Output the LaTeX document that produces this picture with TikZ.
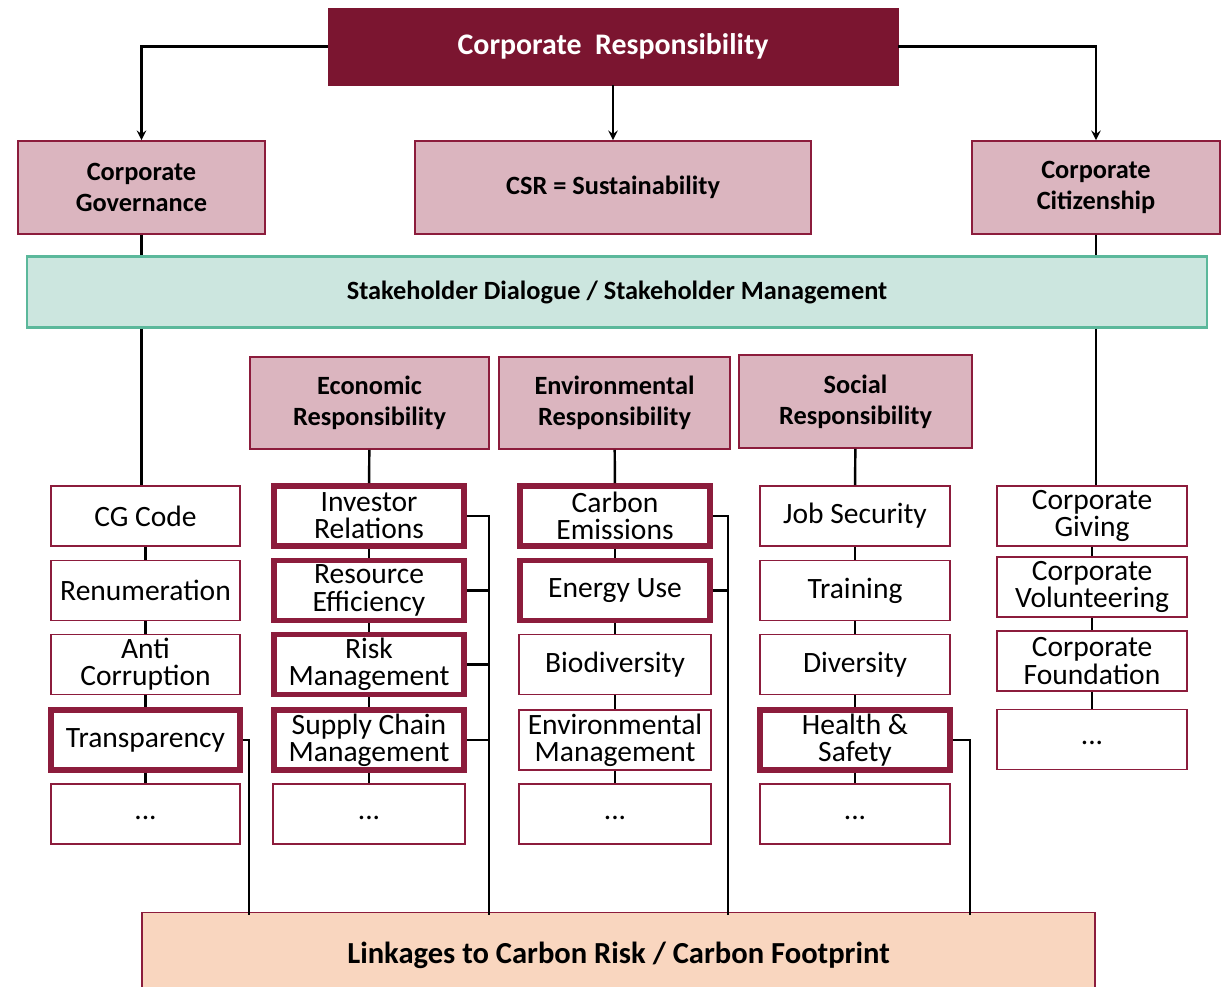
\documentclass[tikz,border=0pt]{standalone}
\usepackage{fontspec}
\setmainfont{Carlito}
\usepackage{tikz}
\usetikzlibrary{positioning,arrows}

\definecolor{crdark}{HTML}{7B1530}
\definecolor{crline}{HTML}{8C1C3C}
\definecolor{crpink}{HTML}{DBB5BF}
\definecolor{shfill}{HTML}{CCE6DF}
\definecolor{shline}{HTML}{5BB89B}
\definecolor{peach}{HTML}{F9D6BF}

\tikzset{
  top/.style={draw=crdark, fill=crdark, text=white, inner sep=0pt,
    font=\bfseries\fontsize{17}{19}\selectfont},
  head/.style={draw=crline, fill=crpink, line width=1pt, inner sep=0pt, align=center,
    font=\bfseries\fontsize{15}{17.5}\selectfont},
  item/.style={draw=crline, fill=white, line width=1pt, inner sep=0pt, align=center,
    minimum height=1.2cm, font=\fontsize{16.8}{15.5}\selectfont},
  key/.style={item, line width=3.2pt},
  link/.style={black, line width=1.4pt}
}

\begin{document}
\begin{tikzpicture}[x=0.02cm, y=-0.02cm]
   \useasboundingbox (0,0) rectangle (1222,986);
   % top levels
   \node[top, minimum width=11.4cm, minimum height=1.54cm] (cr) at (613,46.5) {Corporate\ \ Responsibility};
   \node[head, minimum width=4.94cm, minimum height=1.86cm] (cg) at (141.5,187.5) {Corporate\\Governance};
   \node[head, minimum width=7.92cm, minimum height=1.86cm] (csr) at (613,187.5) {CSR = Sustainability};
   \node[head, minimum width=4.96cm, minimum height=1.86cm] (cc) at (1096,187.5) {Corporate\\Citizenship};
   \draw[->, link, >=stealth] (cr.west) -| (cg.north);
   \draw[->, link, >=stealth] (cr.south) -- (csr.north);
   \draw[->, link, >=stealth] (cr.east) -| (cc.north);

   \node[draw=shline, fill=shfill, line width=1.2pt, minimum width=23.6cm, minimum height=1.42cm,
     font=\bfseries\fontsize{15}{17}\selectfont] (sh) at (617,292)
     {Stakeholder Dialogue / Stakeholder Management};
   \draw[link] (cg.south) -- (cg.south |- sh.north);
   \draw[link] (cc.south) -- (cc.south |- sh.north);

   \node[head, minimum width=4.78cm, minimum height=1.84cm] (econ) at (369.5,403) {Economic\\Responsibility};
   \node[head, minimum width=4.62cm, minimum height=1.84cm] (env) at (614.5,403) {Environmental\\Responsibility};
   \node[head, minimum width=4.66cm, minimum height=1.86cm] (soc) at (855.5,401.5) {Social\\Responsibility};

   % item columns
   \begin{scope}[every node/.append style={minimum width=3.78cm}]
   \node[item] (cg1) at (145.5,516) {CG Code};
   \node[item] (cg2) at (145.5,590.5) {Renumeration};
   \node[item] (cg3) at (145.5,664.5) {Anti\\Corruption};
   \node[key]  (cg4) at (145.5,740) {Transparency};
   \node[item] (cg5) at (145.5,814) {\strut...};
   \end{scope}
   \begin{scope}[every node/.append style={minimum width=3.8cm}]
   \node[key]  (ec1) at (369,516) {Investor\\Relations};
   \node[key]  (ec2) at (369,590.5) {Resource\\Efficiency};
   \node[key]  (ec3) at (369,664.5) {Risk\\Management};
   \node[key]  (ec4) at (369,740) {Supply Chain\\Management};
   \node[item, minimum width=3.84cm] (ec5) at (369,814) {\strut...};
   \end{scope}
   \begin{scope}[every node/.append style={minimum width=3.8cm}]
   \node[key]  (en1) at (615,516) {Carbon\\Emissions};
   \node[key]  (en2) at (615,590.5) {Energy Use};
   \node[item, minimum width=3.84cm] (en3) at (615,664.5) {Biodiversity};
   \node[item, minimum width=3.84cm] (en4) at (615,740) {Environmental\\Management};
   \node[item, minimum width=3.84cm] (en5) at (615,814) {\strut...};
   \end{scope}
   \begin{scope}[every node/.append style={minimum width=3.8cm}]
   \node[item] (so1) at (855,516) {Job Security};
   \node[item] (so2) at (855,590.5) {Training};
   \node[item] (so3) at (855,664.5) {Diversity};
   \node[key]  (so4) at (855,740) {Health \&\\Safety};
   \node[item] (so5) at (855,814) {\strut...};
   \end{scope}
   \begin{scope}[every node/.append style={minimum width=3.8cm}]
   \node[item] (cc1) at (1092,516) {Corporate\\Giving};
   \node[item] (cc2) at (1092,587) {Corporate\\Volunteering};
   \node[item] (cc3) at (1092,661) {Corporate\\Foundation};
   \node[item] (cc4) at (1092,739.5) {\strut...};
   \end{scope}

   \draw[link] (cg.south |- sh.south) -- (cg.south |- cg1.north);
   \draw[link] (cc.south |- sh.south) -- (cc.south |- cc1.north);
   \draw[link] (econ) -- (ec1);
   \draw[link] (env) -- (en1);
   \draw[link] (soc) -- (so1);
   \foreach \c in {cg,ec,en,so}
     \foreach \i [count=\j from 2] in {1,...,4}
       \draw[link] (\c\i) -- (\c\j);
   \foreach \i [count=\j from 2] in {1,...,3}
     \draw[link] (cc\i) -- (cc\j);

   % bottom box and carbon linkages
   \node[draw=crline, fill=peach, line width=1pt, minimum width=19.06cm, minimum height=1.7cm,
     font=\bfseries\fontsize{17.4}{20}\selectfont] (carbon) at (618.5,955) {Linkages to Carbon Risk / Carbon Footprint};
   \coordinate (tb) at (249,915);
   \coordinate (eb) at (489,915);
   \coordinate (vb) at (728,915);
   \coordinate (sb) at (970,915);
   \draw[link] (cg4.east) -| (tb);
   \draw[link] (ec1.east) -| (eb);
   \foreach \i in {2,3,4}
     \draw[link] (ec\i.east) -- (ec\i.east -| eb);
   \draw[link] (en1.east) -| (vb);
   \draw[link] (en2.east) -- (en2.east -| vb);
   \draw[link] (so4.east) -| (sb);
\end{tikzpicture}
\end{document}
